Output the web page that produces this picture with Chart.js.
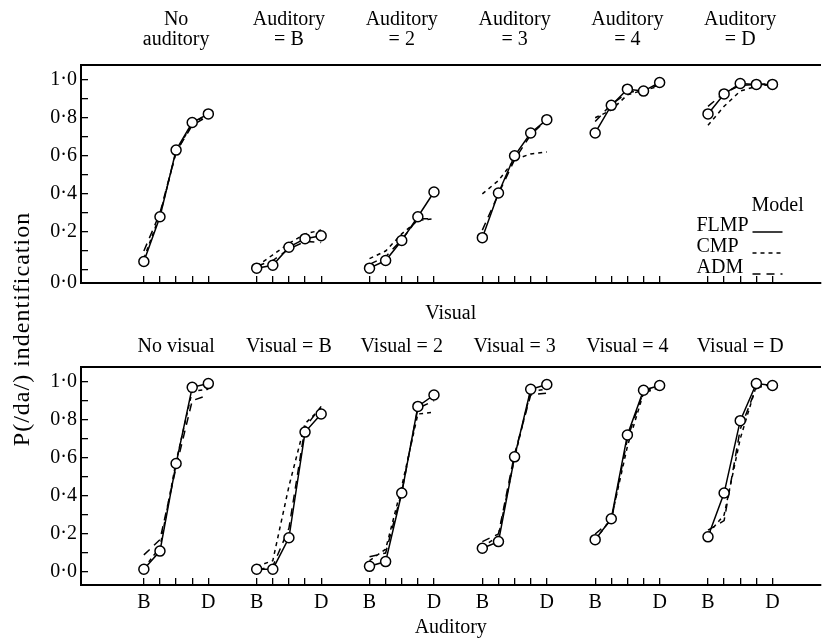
<!DOCTYPE html>
<html>
<head>
<meta charset="utf-8">
<script src="https://cdn.jsdelivr.net/npm/chart.js@4.4.0/dist/chart.umd.min.js"></script>
<style>
  html, body { margin: 0; padding: 0; background: #fff; }
  #wrap { position: relative; width: 827px; height: 642px; }
  #wrap canvas { position: absolute; left: 0; top: 0; }
</style>
</head>
<body>
<div id="wrap">
  <canvas id="topChart" width="827" height="642"></canvas>
  <canvas id="bottomChart" width="827" height="642"></canvas>
</div>
<script>
// stimulus levels along every curve
const levels = ['B', '2', '3', '4', 'D'];
const levelLabels = ['B', '', '', '', 'D'];

// panel headers
const topGroups = [['No', 'auditory'], ['Auditory', '= B'], ['Auditory', '= 2'], ['Auditory', '= 3'], ['Auditory', '= 4'], ['Auditory', '= D']];
const bottomGroups = ['No visual', 'Visual = B', 'Visual = 2', 'Visual = 3', 'Visual = 4', 'Visual = D'];

// y ticks
const yTickValues = [0, 0.1, 0.2, 0.3, 0.4, 0.5, 0.6, 0.7, 0.8, 0.9, 1.0];
const yTickLabels = ['0·0', '', '0·2', '', '0·4', '', '0·6', '', '0·8', '', '1·0'];

// top panel: visual level on x, one curve per auditory condition
const topObserved = [
  [0.045, 0.28, 0.63, 0.775, 0.82],
  [0.01, 0.025, 0.12, 0.165, 0.18],
  [0.01, 0.05, 0.155, 0.28, 0.41],
  [0.17, 0.405, 0.6, 0.72, 0.79],
  [0.72, 0.865, 0.95, 0.94, 0.985],
  [0.82, 0.925, 0.98, 0.975, 0.975]
];
const topFLMP = [
  [0.045, 0.28, 0.63, 0.775, 0.82],
  [0.01, 0.025, 0.12, 0.165, 0.18],
  [0.01, 0.05, 0.155, 0.28, 0.41],
  [0.17, 0.405, 0.6, 0.72, 0.79],
  [0.72, 0.865, 0.95, 0.94, 0.985],
  [0.82, 0.925, 0.98, 0.975, 0.975]
];
const topCMP = [
  [0.06, 0.29, 0.62, 0.77, 0.82],
  [0.02, 0.08, 0.14, 0.19, 0.21],
  [0.06, 0.10, 0.19, 0.26, 0.27],
  [0.40, 0.47, 0.58, 0.61, 0.62],
  [0.80, 0.84, 0.92, 0.945, 0.965],
  [0.76, 0.86, 0.94, 0.965, 0.975]
];
const topADM = [
  [0.10, 0.30, 0.62, 0.76, 0.81],
  [0.02, 0.05, 0.11, 0.15, 0.145],
  [0.03, 0.07, 0.16, 0.27, 0.27],
  [0.21, 0.40, 0.58, 0.71, 0.79],
  [0.78, 0.87, 0.93, 0.95, 0.97],
  [0.86, 0.93, 0.97, 0.975, 0.98]
];

// bottom panel: auditory level on x, one curve per visual condition
const bottomObserved = [
  [0.015, 0.11, 0.57, 0.97, 0.99],
  [0.015, 0.015, 0.18, 0.735, 0.83],
  [0.03, 0.055, 0.415, 0.87, 0.93],
  [0.125, 0.16, 0.605, 0.96, 0.985],
  [0.17, 0.28, 0.72, 0.955, 0.98],
  [0.185, 0.415, 0.795, 0.99, 0.98]
];
const bottomFLMP = [
  [0.015, 0.11, 0.57, 0.97, 0.99],
  [0.015, 0.015, 0.18, 0.735, 0.83],
  [0.03, 0.055, 0.415, 0.87, 0.93],
  [0.125, 0.16, 0.605, 0.96, 0.985],
  [0.17, 0.28, 0.72, 0.955, 0.98],
  [0.185, 0.415, 0.795, 0.99, 0.98]
];
const bottomCMP = [
  [0.02, 0.13, 0.58, 0.95, 0.96],
  [0.03, 0.06, 0.45, 0.78, 0.86],
  [0.06, 0.12, 0.45, 0.83, 0.84],
  [0.13, 0.19, 0.60, 0.95, 0.96],
  [0.17, 0.28, 0.66, 0.94, 0.97],
  [0.20, 0.30, 0.70, 0.98, 0.98]
];
const bottomADM = [
  [0.09, 0.17, 0.55, 0.90, 0.93],
  [0.01, 0.03, 0.23, 0.76, 0.87],
  [0.08, 0.10, 0.42, 0.86, 0.90],
  [0.16, 0.20, 0.62, 0.93, 0.94],
  [0.20, 0.27, 0.70, 0.95, 0.97],
  [0.22, 0.27, 0.75, 0.97, 0.98]
];

// layout
const FONT = "'Liberation Serif', 'Times New Roman', serif";
const groupStep = 7;          // x units between the first level of two groups
const xMin = -3.9, xMax = 41.98;
const yMin = -0.068, yMax = 1.077;

Chart.defaults.font.family = FONT;
Chart.defaults.font.size = 20;
Chart.defaults.color = '#000';

const levelXs = [];
const centerXs = [];
topGroups.forEach((g, gi) => {
  levels.forEach((l, i) => levelXs.push(gi * groupStep + i));
  centerXs.push(gi * groupStep + (levels.length - 1) / 2);
});

function curvePoints(rows) {
  const pts = [];
  rows.forEach((row, g) => {
    row.forEach((v, i) => pts.push({ x: g * groupStep + i, y: v }));
    pts.push({ x: g * groupStep + levels.length + 0.5, y: null }); // break between curves
  });
  return pts;
}

function makeDatasets(obs, flmp, cmp, adm) {
  return [
    { label: 'Observed', data: curvePoints(obs), showLine: false, order: 0,
      pointRadius: 5, pointBorderWidth: 1.5, pointBorderColor: '#000', pointBackgroundColor: '#fff' },
    { label: 'FLMP', data: curvePoints(flmp), order: 1, borderColor: '#000', borderWidth: 1.5, pointRadius: 0 },
    { label: 'CMP', data: curvePoints(cmp), order: 2, borderColor: '#000', borderWidth: 1.5, borderDash: [4, 4], pointRadius: 0 },
    { label: 'ADM', data: curvePoints(adm), order: 3, borderColor: '#000', borderWidth: 1.5, borderDash: [8, 6], pointRadius: 0 }
  ];
}

// legend box in the top panel, line samples taken from the datasets
const modelLegend = {
  id: 'modelLegend',
  afterDraw(chart) {
    const { ctx, chartArea } = chart;
    const x0 = chartArea.right - 124;
    const y0 = chartArea.top + 141;
    ctx.save();
    ctx.fillStyle = '#000';
    ctx.font = '20px ' + FONT;
    ctx.textBaseline = 'middle';
    ctx.fillText('Model', x0 + 55, y0);
    chart.data.datasets.slice(1).forEach((ds, i) => {
      const y = y0 + 20 + i * 21;
      ctx.fillText(ds.label, x0, y);
      ctx.beginPath();
      ctx.setLineDash(ds.borderDash || []);
      ctx.lineWidth = 1.5;
      ctx.strokeStyle = '#000';
      ctx.moveTo(x0 + 56, y + 6);
      ctx.lineTo(x0 + 86, y + 6);
      ctx.stroke();
    });
    ctx.restore();
  }
};

// shared y title, spans both panels
const yTitle = {
  id: 'yTitle',
  afterDraw(chart) {
    const ctx = chart.ctx;
    ctx.save();
    ctx.translate(23, 329);
    ctx.rotate(-Math.PI / 2);
    ctx.fillStyle = '#000';
    ctx.font = '24px ' + FONT;
    ctx.letterSpacing = '1px';
    ctx.textAlign = 'center';
    ctx.textBaseline = 'middle';
    ctx.fillText('P(/da/) indentification', 0, 0);
    ctx.restore();
  }
};

function makeChart(id, cfg) {
  return new Chart(document.getElementById(id), {
    type: 'line',
    data: { datasets: cfg.datasets },
    plugins: cfg.plugins,
    options: {
      responsive: false,
      animation: false,
      events: [],
      layout: { padding: cfg.padding },
      plugins: { legend: { display: false }, tooltip: { enabled: false } },
      scales: {
        x: {
          type: 'linear', position: 'bottom', min: xMin, max: xMax, bounds: 'data',
          afterBuildTicks: s => { s.ticks = levelXs.map(v => ({ value: v })); },
          ticks: {
            display: cfg.showLevels, autoSkip: false, maxRotation: 0, padding: 13,
            callback: (v, i) => levelLabels[i % levels.length]
          },
          grid: { drawOnChartArea: false, tickLength: -7, color: '#000', lineWidth: 1.3 },
          border: { display: true, color: '#000', width: 2 },
          title: { display: true, text: cfg.xTitle, padding: 0, font: { size: 20 } },
          afterFit: s => { s.height = cfg.xHeight; }
        },
        xTop: {
          type: 'linear', position: 'top', min: xMin, max: xMax, bounds: 'data',
          afterBuildTicks: s => { s.ticks = centerXs.map(v => ({ value: v })); },
          ticks: {
            autoSkip: false, maxRotation: 0, padding: cfg.headerPad,
            font: { size: 20, lineHeight: 1.0 },
            callback: (v, i) => cfg.headers[i]
          },
          grid: { drawOnChartArea: false, drawTicks: false },
          border: { display: true, color: '#000', width: 2 },
          afterFit: s => { s.height = cfg.headerHeight; }
        },
        y: {
          type: 'linear', min: yMin, max: yMax, bounds: 'data',
          afterBuildTicks: s => {
            const ticks = yTickValues.map(v => ({ value: v }));
            if (cfg.zeroAtAxis) ticks.unshift({ value: yMin });
            s.ticks = ticks;
          },
          ticks: {
            autoSkip: false, padding: 11,
            callback: v => {
              if (cfg.zeroAtAxis) {
                if (v === yMin) return yTickLabels[0];
                if (v === 0) return '';
              }
              const k = yTickValues.indexOf(v);
              return k >= 0 ? yTickLabels[k] : '';
            }
          },
          grid: { drawOnChartArea: false, tickLength: -7, color: '#000', lineWidth: 1.3 },
          border: { display: true, color: '#000', width: 2 },
          afterFit: s => { s.width = 51; }
        }
      }
    }
  });
}

makeChart('topChart', {
  datasets: makeDatasets(topObserved, topFLMP, topCMP, topADM),
  plugins: [modelLegend, yTitle],
  padding: { left: 30, right: 5, top: 0, bottom: 316 },
  headers: topGroups, headerHeight: 65, headerPad: 15,
  showLevels: false, xTitle: 'Visual', xHeight: 43,
  zeroAtAxis: true
});

makeChart('bottomChart', {
  datasets: makeDatasets(bottomObserved, bottomFLMP, bottomCMP, bottomADM),
  plugins: [],
  padding: { left: 30, right: 5, top: 327, bottom: 2 },
  headers: bottomGroups, headerHeight: 40, headerPad: 10,
  showLevels: true, xTitle: 'Auditory', xHeight: 55,
  zeroAtAxis: false
});
</script>
</body>
</html>
